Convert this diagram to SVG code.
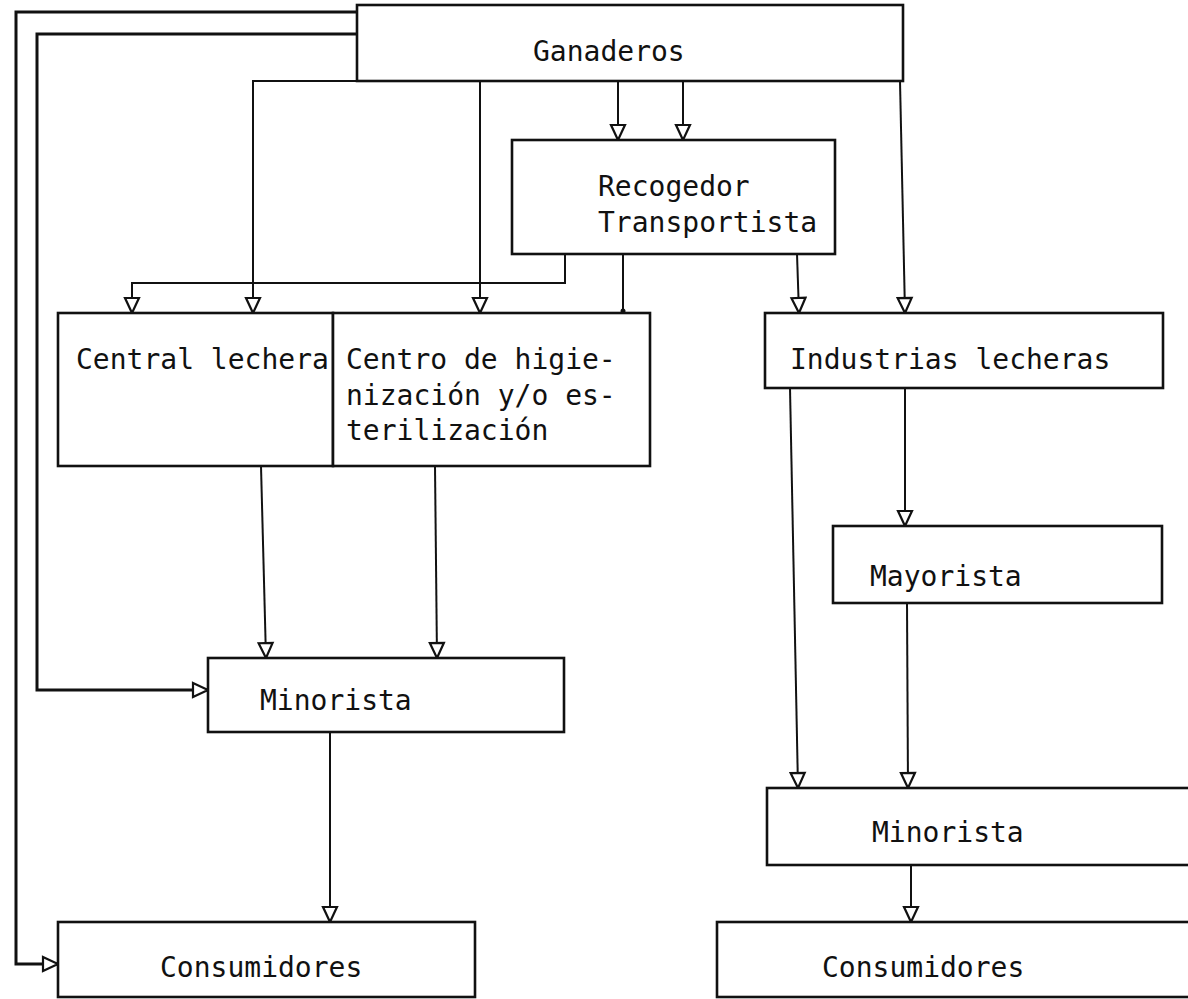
<svg xmlns="http://www.w3.org/2000/svg" width="1188" height="999" viewBox="0 0 1188 999">
  <defs>
    <style>
      .box { fill: #ffffff; stroke: #111; stroke-width: 2.6; }
      .lbl { font-family: "DejaVu Sans Mono", "Liberation Mono", monospace; font-size: 28px; fill: #111; }
      .edge { fill: none; stroke: #111; stroke-width: 2; stroke-linejoin: miter; }
      .edge.heavy { stroke-width: 3; }
    </style>
    <!-- hollow triangular arrowhead -->
    <marker id="tri" markerUnits="userSpaceOnUse" viewBox="-2 -9 19 18" refX="15" refY="0" markerWidth="19" markerHeight="18" orient="auto">
      <path d="M0,-7 L15,0 L0,7 Z" fill="#fff" stroke="#111" stroke-width="2.2"/>
    </marker>
  </defs>

  <rect width="1188" height="999" fill="#ffffff"/>

  <!-- connectors -->
  <g id="connectors">
    <!-- Ganaderos to lower stages -->
    <path class="edge" d="M357,81 H253 V313" marker-end="url(#tri)"/>
    <path class="edge" d="M480,81 V313" marker-end="url(#tri)"/>
    <path class="edge" d="M618,81 V140" marker-end="url(#tri)"/>
    <path class="edge" d="M683,81 V140" marker-end="url(#tri)"/>
    <path class="edge" d="M900,81 L905,313" marker-end="url(#tri)"/>
    <!-- Recogedor / Transportista outputs -->
    <path class="edge" d="M565,254 V283 H132 V313" marker-end="url(#tri)"/>
    <path class="edge" d="M623,254 V313"/>
    <circle cx="623" cy="311" r="2.5" fill="#111"/>
    <path class="edge" d="M797,254 L799,313" marker-end="url(#tri)"/>
    <!-- processing to retail -->
    <path class="edge" d="M261,466 L266,658" marker-end="url(#tri)"/>
    <path class="edge" d="M435,466 L437,658" marker-end="url(#tri)"/>
    <path class="edge" d="M330,732 V922" marker-end="url(#tri)"/>
    <!-- industry chain -->
    <path class="edge" d="M790,388 L798,788" marker-end="url(#tri)"/>
    <path class="edge" d="M905,388 V526" marker-end="url(#tri)"/>
    <path class="edge" d="M907,603 L908,788" marker-end="url(#tri)"/>
    <path class="edge" d="M911,865 V922" marker-end="url(#tri)"/>
    <!-- direct sales from Ganaderos -->
    <path class="edge heavy" d="M357,12 H16 V964 H58" marker-end="url(#tri)"/>
    <path class="edge heavy" d="M357,34 H37 V690 H208" marker-end="url(#tri)"/>
  </g>

  <g id="ganaderos">
    <rect class="box" x="357" y="5" width="546" height="76"/>
    <text class="lbl" x="533" y="61">Ganaderos</text>
  </g>

  <g id="recogedor">
    <rect class="box" x="512" y="140" width="323" height="114"/>
    <text class="lbl" x="598" y="196">Recogedor</text>
    <text class="lbl" x="598" y="232">Transportista</text>
  </g>

  <g id="central-lechera">
    <rect class="box" x="58" y="313" width="275" height="153"/>
    <text class="lbl" x="76" y="369">Central lechera</text>
  </g>

  <g id="centro-higienizacion">
    <rect class="box" x="333" y="313" width="317" height="153"/>
    <text class="lbl" x="346" y="369">Centro de higie-</text>
    <text class="lbl" x="346" y="405">nización y/o es-</text>
    <text class="lbl" x="346" y="440">terilización</text>
  </g>

  <g id="industrias-lecheras">
    <rect class="box" x="765" y="313" width="398" height="75"/>
    <text class="lbl" x="790" y="369">Industrias lecheras</text>
  </g>

  <g id="mayorista">
    <rect class="box" x="833" y="526" width="329" height="77"/>
    <text class="lbl" x="870" y="586">Mayorista</text>
  </g>

  <g id="minorista-1">
    <rect class="box" x="208" y="658" width="356" height="74"/>
    <text class="lbl" x="260" y="710">Minorista</text>
  </g>

  <g id="minorista-2">
    <rect class="box" x="767" y="788" width="440" height="77"/>
    <text class="lbl" x="872" y="842">Minorista</text>
  </g>

  <g id="consumidores-1">
    <rect class="box" x="58" y="922" width="417" height="75"/>
    <text class="lbl" x="160" y="977">Consumidores</text>
  </g>

  <g id="consumidores-2">
    <rect class="box" x="717" y="922" width="490" height="75"/>
    <text class="lbl" x="822" y="977">Consumidores</text>
  </g>
</svg>
